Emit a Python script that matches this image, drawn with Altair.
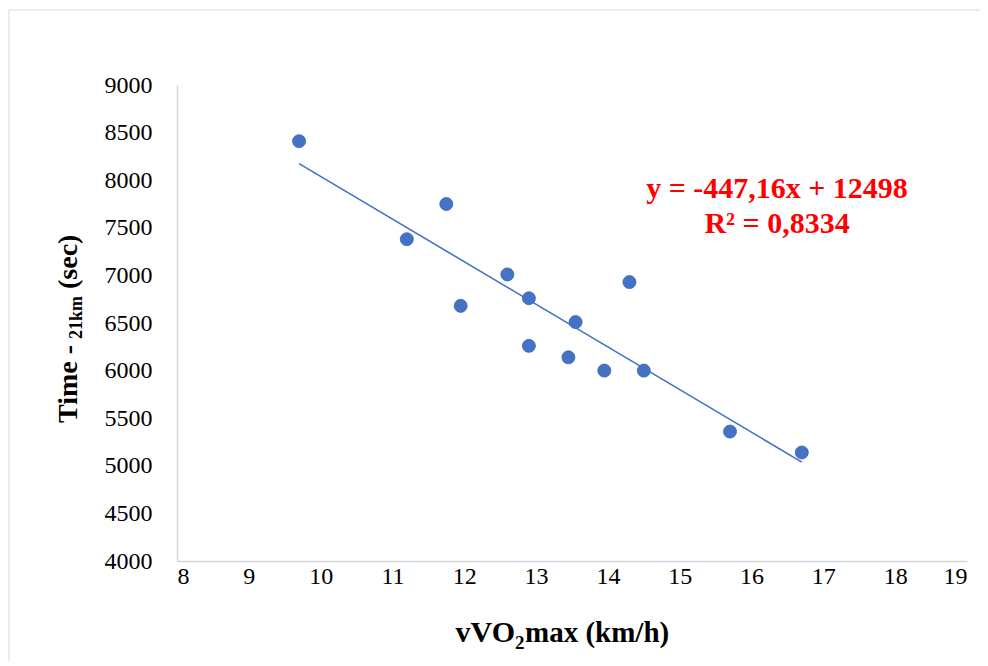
import altair as alt
import pandas as pd

# data
vvo2max = [9.7, 11.2, 11.75, 11.95, 12.6, 12.9, 12.9, 13.45, 13.55, 13.95, 14.3, 14.5, 15.7, 16.7]
time_sec = [8410, 7380, 7750, 6680, 7010, 6760, 6260, 6140, 6510, 6000, 6930, 6000, 5360, 5140]
x_ticks = list(range(8, 20))
y_ticks = list(range(4000, 9001, 500))
equation_lines = ["y = -447,16x + 12498", "R² = 0,8334"]

BLUE = "#4472C4"
AXIS = "#CDD5E1"
FONT = "Liberation Serif"

df = pd.DataFrame({"x": vvo2max, "y": time_sec})

xs = alt.Scale(domain=[8, 19], nice=False, zero=False)
ys = alt.Scale(domain=[4000, 9000], nice=False, zero=False)

x_axis = alt.Axis(values=x_ticks, format="d", title=None, grid=False, ticks=False,
                  domainColor=AXIS, domainWidth=1.5, labelFont=FONT, labelFontSize=24,
                  labelColor="#000000", labelPadding=3)
y_axis = alt.Axis(values=y_ticks, format="d", title=None, grid=False, ticks=False,
                  domainColor=AXIS, domainWidth=1.5, labelFont=FONT, labelFontSize=24,
                  labelColor="#000000", labelPadding=25)

base = alt.Chart(df)

points = base.mark_circle(size=170, color=BLUE, opacity=1, stroke="#3A65B5", strokeWidth=0.8).encode(
    x=alt.X("x:Q", scale=xs, axis=x_axis),
    y=alt.Y("y:Q", scale=ys, axis=y_axis),
)

trend = base.transform_regression("x", "y", method="linear").mark_line(
    color=BLUE, strokeWidth=1.6
).encode(x=alt.X("x:Q", scale=xs, axis=x_axis), y=alt.Y("y:Q", scale=ys, axis=y_axis))


def txt(s, x, y, size, align, angle=0, color="#000000"):
    return alt.Chart(pd.DataFrame({"t": [s]})).mark_text(
        font=FONT, fontSize=size, fontWeight="bold", color=color, align=align,
        baseline="alphabetic", angle=angle
    ).encode(text="t:N", x=alt.value(x), y=alt.value(y))


eq1 = txt(equation_lines[0], 600, 113, 30, "center", color="#FF0000")
eq2 = txt(equation_lines[1], 600, 148, 30, "center", color="#FF0000")

# x-axis title: vVO2max (km/h)
xt1 = txt("vVO", 338, 557, 30, "right")
xt2 = txt("2", 338, 564, 19, "left")
xt3 = txt("max (km/h)", 348, 557, 29, "left")

# y-axis title: Time - 21km (sec)
yt1 = txt("Time - ", -100, 338, 28, "left", angle=270)
yt2 = txt("21km", -95, 254, 18, "left", angle=270)
yt3 = txt("(sec)", -100, 204, 28, "left", angle=270)

# light outer border (top and left edges)
border_top = alt.Chart(pd.DataFrame({"a": [0]})).mark_rule(color="#D9D9D9", strokeWidth=1).encode(
    x=alt.value(-168), x2=alt.value(810), y=alt.value(-75))
border_left = alt.Chart(pd.DataFrame({"a": [0]})).mark_rule(color="#D9D9D9", strokeWidth=1).encode(
    x=alt.value(-168), y=alt.value(-75), y2=alt.value(600))

chart = alt.layer(
    border_top, border_left, trend, points, eq1, eq2, xt1, xt2, xt3, yt1, yt2, yt3
).properties(
    width=790, height=476,
    background="#FFFFFF",
    autosize=alt.AutoSizeParams(type="none"),
    padding={"left": 169, "top": 77, "right": 13, "bottom": 100},
).configure_view(stroke="transparent", strokeWidth=0).configure_axis(
    grid=False, labelFont=FONT, labelFontSize=24, labelColor="#000000"
)

chart.save("out.html", embed_options={"renderer": "svg", "actions": False})
